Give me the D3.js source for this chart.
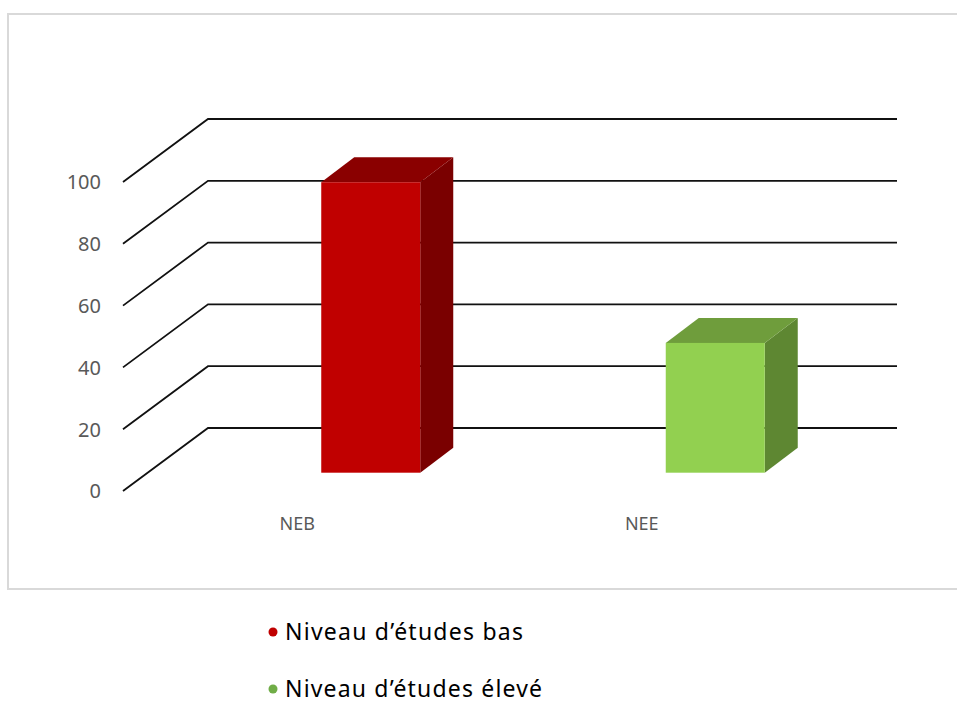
<!DOCTYPE html>
<html>
<head>
  <meta charset="UTF-8">
  <title>Niveau d'études</title>
  <script src="https://cdn.jsdelivr.net/npm/d3@7"></script>
  <style>
    body { margin: 0; background: #fff; }
    text { font-family: "Noto Sans", "Open Sans", sans-serif; }
  </style>
</head>
<body>
  <svg id="chart" width="957" height="704"></svg>

  <script type="text/javascript">

  // data
  var categories = ['NEB', 'NEE'];
  var values = [94, 42];
  var series = ['Niveau d’études bas', 'Niveau d’études élevé'];
  var ticks = [0, 20, 40, 60, 80, 100];

  var colors = [
    { front: '#c00000', top: '#8a0000', side: '#7a0000', dot: '#c00000' },
    { front: '#92d050', top: '#6f9d3c', side: '#5e8732', dot: '#70ad47' }
  ];

  var svg = d3.select('#chart');

  // outer frame
  svg.append('rect')
    .attr('x', 8).attr('y', 14)
    .attr('width', 960).attr('height', 575)
    .attr('fill', 'none')
    .attr('stroke', '#d9d9d9')
    .attr('stroke-width', 2);

  // depth of the 3D box
  var dx = 85, dy = -63;

  var x = d3.scaleBand().domain(categories).range([123, 812]);
  var y = d3.scaleLinear().domain([0, 100]).range([491, 182]);

  // left wall diagonals and back wall lines
  var grid = svg.append('g');
  ticks.forEach(function(t) {
    grid.append('path')
      .attr('d', 'M' + 123 + ',' + y(t) + 'L' + (123 + dx) + ',' + (y(t) + dy) + 'H' + (812 + dx))
      .attr('fill', 'none')
      .attr('stroke', '#111')
      .attr('stroke-width', 1.8);
  });

  // y tick labels
  svg.append('g').selectAll('text')
    .data(ticks).enter().append('text')
    .attr('x', 101)
    .attr('y', function(d) { return y(d) + 2; })
    .attr('text-anchor', 'end')
    .attr('dominant-baseline', 'middle')
    .attr('font-size', 20)
    .attr('fill', '#595959')
    .text(function(d) { return d; });

  // bars
  var baseShift = 18.3;   // bar sits inside the box depth
  var offX = 26, barW = 99;
  var bdx = 33, bdy = -25;

  var bars = svg.append('g').selectAll('g')
    .data(values).enter().append('g');

  bars.each(function(v, i) {
    var g = d3.select(this);
    var x0 = x(categories[i]) + x.bandwidth() / 2 + offX;
    var x1 = x0 + barW;
    var yb = y(0) - baseShift;
    var yt = y(v) - baseShift;
    var c = colors[i];

    g.append('path')
      .attr('d', 'M' + x1 + ',' + yt + 'L' + (x1 + bdx) + ',' + (yt + bdy) + 'L' + (x1 + bdx) + ',' + (yb + bdy) + 'L' + x1 + ',' + yb + 'Z')
      .attr('fill', c.side);
    g.append('path')
      .attr('d', 'M' + x0 + ',' + yt + 'L' + (x0 + bdx) + ',' + (yt + bdy) + 'L' + (x1 + bdx) + ',' + (yt + bdy) + 'L' + x1 + ',' + yt + 'Z')
      .attr('fill', c.top);
    g.append('rect')
      .attr('x', x0).attr('y', yt)
      .attr('width', barW).attr('height', yb - yt)
      .attr('fill', c.front);
  });

  // category labels
  svg.append('g').selectAll('text')
    .data(categories).enter().append('text')
    .attr('x', function(d) { return x(d) + x.bandwidth() / 2 + 2; })
    .attr('y', 530)
    .attr('text-anchor', 'middle')
    .attr('font-size', 18)
    .attr('fill', '#595959')
    .text(function(d) { return d; });

  // legend
  var legendW = [238, 257];
  var legend = svg.append('g').selectAll('g')
    .data(series).enter().append('g')
    .attr('transform', function(d, i) { return 'translate(273,' + (632 + i * 57) + ')'; });

  legend.append('circle')
    .attr('r', 4.5)
    .attr('fill', function(d, i) { return colors[i].dot; });

  legend.append('text')
    .attr('x', 12)
    .attr('y', 8)
    .attr('font-size', 23)
    .attr('textLength', function(d, i) { return legendW[i]; })
    .attr('lengthAdjust', 'spacing')
    .attr('fill', '#000')
    .text(function(d) { return d; });

  </script>
</body>
</html>
